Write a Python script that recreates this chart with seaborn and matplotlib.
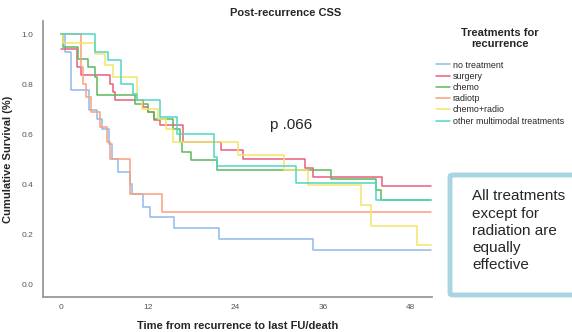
import pandas as pd
import seaborn as sns
import matplotlib.pyplot as plt
from matplotlib.patches import FancyBboxPatch

# step curves: times where survival changes, and survival after each step
groups = ["no treatment", "surgery", "chemo", "radiotp", "chemo+radio", "other multimodal treatments"]

no_tx_t = [0, 0.6, 1.3, 3.9, 5.0, 5.6, 6.6, 7.0, 7.8, 9.5, 9.8, 11.2, 12.2, 15.6, 21.7, 34.6, 50.9]
no_tx_s = [1.0, 0.93, 0.776, 0.696, 0.66, 0.62, 0.56, 0.50, 0.45, 0.40, 0.36, 0.31, 0.27, 0.224, 0.18, 0.136, 0.136]

surg_t = [0, 2.2, 2.7, 6.7, 7.1, 7.4, 11.3, 11.9, 12.8, 13.6, 16.8, 22.0, 25.0, 33.6, 34.6, 44.2, 50.9]
surg_s = [0.94, 0.87, 0.836, 0.80, 0.77, 0.736, 0.71, 0.69, 0.656, 0.636, 0.57, 0.536, 0.50, 0.464, 0.43, 0.393, 0.393]

chemo_t = [0, 0.2, 2.3, 3.7, 4.7, 5.0, 10.2, 11.9, 12.8, 15.4, 16.3, 16.6, 17.9, 21.4, 37.1, 43.3, 44.0, 50.9]
chemo_s = [1.0, 0.95, 0.90, 0.87, 0.83, 0.756, 0.72, 0.69, 0.66, 0.62, 0.57, 0.53, 0.496, 0.456, 0.42, 0.376, 0.336, 0.336]

radio_t = [0, 2.7, 3.0, 3.4, 4.1, 5.3, 6.3, 6.7, 9.5, 13.9, 50.9]
radio_s = [1.0, 0.87, 0.80, 0.75, 0.69, 0.63, 0.57, 0.50, 0.36, 0.288, 0.288]

cr_t = [0, 0.2, 4.7, 6.0, 7.2, 10.4, 11.1, 13.4, 14.5, 15.4, 24.3, 30.6, 33.9, 41.2, 42.6, 49.0, 50.9]
cr_s = [1.0, 0.963, 0.92, 0.876, 0.83, 0.736, 0.70, 0.66, 0.62, 0.57, 0.516, 0.456, 0.396, 0.316, 0.233, 0.156, 0.156]

other_t = [0, 4.7, 6.5, 8.3, 9.9, 10.5, 13.6, 15.9, 21.1, 21.4, 32.3, 43.3, 50.9]
other_s = [1.0, 0.93, 0.896, 0.80, 0.76, 0.736, 0.67, 0.60, 0.51, 0.472, 0.404, 0.336, 0.336]

colors = ["#8fb9ee", "#ea5f7e", "#5cb85c", "#f8a080", "#f2e46a", "#4fd6c4"]

times = [no_tx_t, surg_t, chemo_t, radio_t, cr_t, other_t]
survs = [no_tx_s, surg_s, chemo_s, radio_s, cr_s, other_s]
rows = []
for g, t, s in zip(groups, times, survs):
    for ti, si in zip(t, s):
        rows.append({"time": ti, "surv": si, "group": g})
df = pd.DataFrame(rows)

sns.set_style("white")
plt.rcParams["font.family"] = ["Liberation Sans", "DejaVu Sans"]

fig = plt.figure(figsize=(5.72, 3.32), dpi=100)
ax = fig.add_axes([0.075, 0.105, 0.68, 0.831])

sns.lineplot(data=df, x="time", y="surv", hue="group", hue_order=groups,
             palette=colors, drawstyle="steps-post", linewidth=1.1,
             estimator=None, sort=False, ax=ax)

ax.set_xlim(-2.5, 51)
ax.set_ylim(-0.052, 1.052)
ax.set_xticks([0, 12, 24, 36, 48])
ax.set_yticks([0.0, 0.2, 0.4, 0.6, 0.8, 1.0])
ax.set_yticklabels(["0.0", "0.2", "0.4", "0.6", "0.8", "1.0"])
ax.tick_params(axis="x", labelsize=6, colors="#555555", length=0, pad=5)
ax.tick_params(axis="y", labelsize=6, colors="#555555", length=0, pad=7)
for sp in ["top", "right"]:
    ax.spines[sp].set_visible(False)
for sp in ["left", "bottom"]:
    ax.spines[sp].set_color("#999999")
    ax.spines[sp].set_linewidth(1.3)

ax.set_title("Post-recurrence CSS", fontsize=8, fontweight="bold", pad=4, x=0.625)
ax.set_xlabel("Time from recurrence to last FU/death", fontsize=8, fontweight="bold", labelpad=7)
ax.set_ylabel("Cumulative Survival (%)", fontsize=8, fontweight="bold", labelpad=6)

leg = ax.legend(title="Treatments for\nrecurrence", loc="upper left", bbox_to_anchor=(0.99, 1.005),
                frameon=False, fontsize=6.4, handlelength=1.6, handletextpad=0.3,
                labelspacing=0.25, title_fontproperties={"weight": "bold", "size": 8})
leg._legend_box.align = "center"
leg._legend_box.sep = 8
leg.get_title().set_multialignment("center")

ax.text(28.7, 0.636, "p .066", fontsize=11, va="center")

box = FancyBboxPatch((450 / 572, (332 - 295) / 332), 0.3, (295 - 175) / 332,
                     boxstyle="round,pad=0,rounding_size=0.005", transform=fig.transFigure,
                     facecolor="white", edgecolor="#a9d5e2", linewidth=3.5, clip_on=False)
fig.patches.append(box)
fig.text(472 / 572, 0.43, "All treatments\nexcept for\nradiation are\nequally\neffective",
         fontsize=11, va="top", ha="left", linespacing=1.3)

plt.savefig("out.png", dpi=100)
